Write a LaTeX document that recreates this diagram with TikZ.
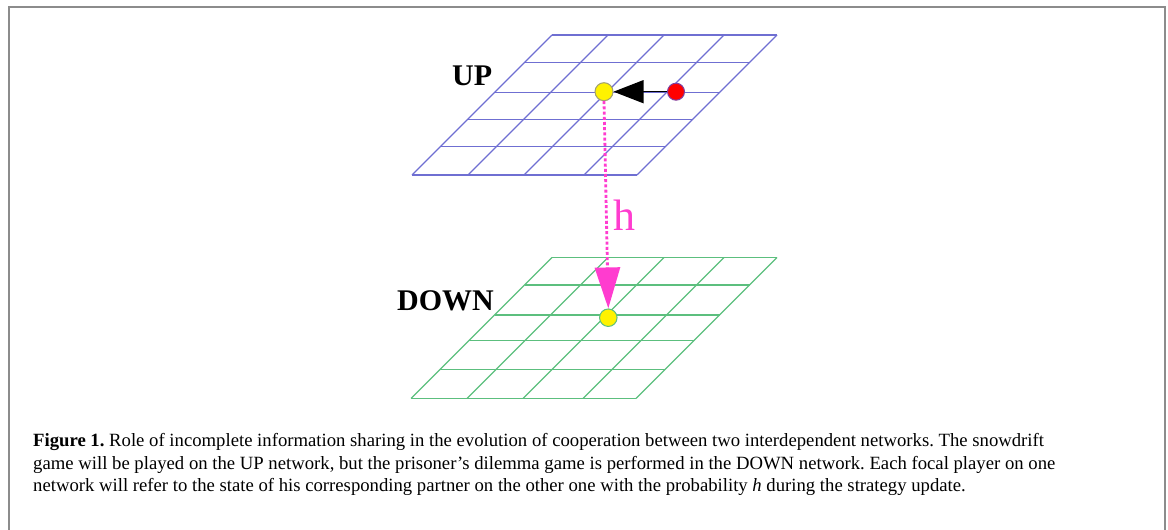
\documentclass[tikz,border=0pt]{standalone}
\usepackage{fontspec}
\setmainfont{Liberation Serif}
\usetikzlibrary{arrows.meta}
\definecolor{upblue}{HTML}{6F6FD2}
\definecolor{downgreen}{HTML}{5CBF7E}
\definecolor{hpink}{HTML}{FF3CCF}
\definecolor{framegray}{HTML}{8C8C8C}
\definecolor{yellowline}{HTML}{A0A070}
\definecolor{redline}{HTML}{8040A0}
\tikzset{
  gridline/.style={line width=1.1pt},
  player/.style={circle, draw, line width=1pt, inner sep=0pt},
  netlabel/.style={font=\fontsize{30}{30}\selectfont\bfseries, anchor=base west, inner sep=0pt},
  capline/.style={font=\fontsize{18.7}{22}\selectfont\frenchspacing, anchor=base west, inner sep=0pt},
}
% draws one lattice: #1 colour, #2 top edge y, #3 list of row ys, #4 list of column xs at the top edge, #5 depth
\newcommand{\lattice}[5]{%
  \foreach \ry in {#3} {
    \draw[gridline, #1] ({552-(\ry-#2)}, \ry) -- ({777-(\ry-#2)}, \ry);
  }
  \foreach \cx in {#4} {
    \draw[gridline, #1] (\cx, #2) -- ({\cx-#5}, {#2+#5});
  }%
}
\begin{document}
\begin{tikzpicture}[x=1pt, y=-1pt]
  \useasboundingbox (0,0) rectangle (1168,530);
  % outer frame, open at the bottom
  \draw[framegray, line width=2pt] (8.5,531) -- (8.5,7) -- (1164.5,7) -- (1164.5,531);

  % the two networks
  \lattice{upblue}{35}{35,62.7,92.7,119.3,146.7,175}{552,608,664,724,777}{140}
  \lattice{downgreen}{257.5}{257.5,285,315,340.7,369.3,398.5}{552,608,664,724,777}{141}

  \node[netlabel] (uplabel) at (452,85) {UP};
  \node[netlabel] (downlabel) at (397,310) {DOWN};

  % players
  \node[player, fill=yellow, draw=yellowline, minimum size=18pt] (focalup) at (604,91.7) {};
  \node[player, fill=red, draw=redline, minimum size=17pt] (neighbour) at (676,91.7) {};
  \node[player, fill=yellow, draw=downgreen, minimum size=17.5pt] (focaldown) at (608.3,317.7) {};

  % strategy learning from the neighbour
  \draw[line width=1.3pt, -{Triangle[width=23pt,length=30pt]}] (neighbour) -- (focalup);

  % reference to the partner in the other network
  \draw[hpink, line width=2.8pt, dash pattern=on 3pt off 2.2pt,
        -{Triangle[width=25pt,length=41pt]}] (focalup.south) -- (focaldown.north);
  \node[hpink, font=\fontsize{44}{44}\selectfont, anchor=base west, inner sep=0pt] (hlabel) at (613,230) {h};

  % caption
  \node[capline] (cap1) at (33,446.5) {\textbf{Figure 1.} Role of incomplete information sharing in the evolution of cooperation between two interdependent networks. The snowdrift};
  \node[capline] (cap2) at (33,469) {game will be played on the UP network, but the prisoner’s dilemma game is performed in the DOWN network. Each focal player on one};
  \node[capline] (cap3) at (33,491.5) {network will refer to the state of his corresponding partner on the other one with the probability \textit{h} during the strategy update.};
\end{tikzpicture}
\end{document}
